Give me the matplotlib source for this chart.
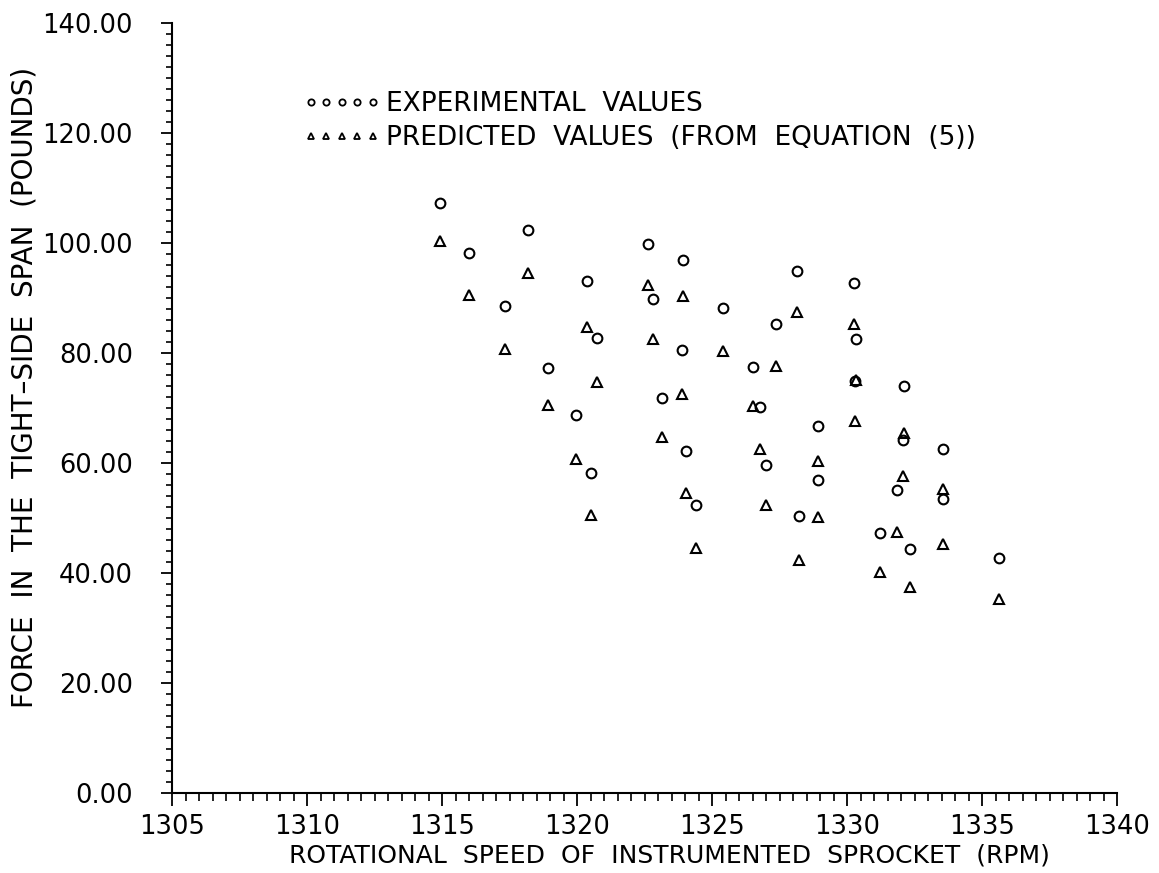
import matplotlib
matplotlib.use("Agg")
import matplotlib.pyplot as plt
from matplotlib.lines import Line2D
from matplotlib.ticker import MultipleLocator, FormatStrFormatter

plt.rcParams["font.family"] = ["DejaVu Sans"]

# sprocket speed (rpm) for each test run
rpm = [1314.93, 1318.17, 1316.00, 1320.38, 1322.62, 1323.91, 1322.80, 1317.34,
       1320.73, 1323.88, 1318.94, 1323.14, 1319.96, 1324.04, 1320.51, 1324.41,
       1328.14, 1330.26, 1325.41, 1327.37, 1330.32, 1326.53, 1330.30, 1332.11,
       1326.78, 1328.91, 1332.06, 1333.57, 1327.00, 1328.91, 1331.86, 1333.57,
       1328.23, 1331.22, 1332.33, 1335.64]

# measured tight-side force (lb)
experimental = [107.2, 102.4, 98.1, 93.1, 99.8, 97.0, 89.8, 88.5,
                82.7, 80.5, 77.3, 71.9, 68.7, 62.1, 58.2, 52.3,
                95.0, 92.8, 88.1, 85.3, 82.5, 77.4, 74.9, 74.0,
                70.2, 66.8, 64.2, 62.6, 59.6, 57.0, 55.1, 53.4,
                50.4, 47.3, 44.4, 42.7]

# force from equation (5), same runs
predicted = [100.4, 94.6, 90.5, 84.7, 92.4, 90.3, 82.5, 80.7,
             74.7, 72.5, 70.5, 64.7, 60.7, 54.5, 50.5, 44.5,
             87.5, 85.3, 80.4, 77.6, 75.1, 70.4, 67.7, 65.4,
             62.5, 60.4, 57.6, 55.3, 52.4, 50.2, 47.5, 45.3,
             42.4, 40.2, 37.5, 35.3]

W, H = 1159, 873
fig = plt.figure(figsize=(W / 100, H / 100), dpi=100)
ax = fig.add_axes([172 / W, 80 / H, (1117 - 172) / W, (793 - 23) / H])

ax.plot(rpm, experimental, linestyle="none", marker="o", markersize=7,
        mfc="none", mec="black", mew=1.5, clip_on=False)
ax.plot(rpm, predicted, linestyle="none", marker="^", markersize=6.5,
        mfc="none", mec="black", mew=1.5, clip_on=False)

ax.set_xlim(1305, 1340)
ax.set_ylim(0, 140)

for side in ("top", "right"):
    ax.spines[side].set_visible(False)
for side in ("left", "bottom"):
    ax.spines[side].set_linewidth(1.5)

ax.xaxis.set_major_locator(MultipleLocator(5))
ax.xaxis.set_minor_locator(MultipleLocator(0.5))
ax.yaxis.set_major_locator(MultipleLocator(20))
ax.yaxis.set_minor_locator(MultipleLocator(2))
ax.yaxis.set_major_formatter(FormatStrFormatter("%.2f"))

ax.tick_params(axis="x", which="major", direction="out", length=9.5, width=1.3,
               pad=5.5, labelsize=18.5)
ax.tick_params(axis="x", which="minor", direction="out", length=6, width=1.2)
ax.tick_params(axis="y", which="major", direction="out", length=8, width=1.3,
               pad=20, labelsize=18.5)
ax.tick_params(axis="y", which="minor", direction="out", length=4.3, width=1.2)

fig.text(669 / W, 1 - 855 / H,
         "ROTATIONAL  SPEED  OF  INSTRUMENTED  SPROCKET  (RPM)",
         ha="center", va="center", fontsize=18)
fig.text(25 / W, 1 - 387 / H,
         "FORCE  IN  THE  TIGHT\u2013SIDE  SPAN  (POUNDS)",
         ha="center", va="center", rotation=90, fontsize=20)

# key with five small symbols per row
handles = [
    Line2D([], [], linestyle="none", marker="o", markersize=4.5,
           mfc="none", mec="black", mew=1.3),
    Line2D([], [], linestyle="none", marker="^", markersize=4.5,
           mfc="none", mec="black", mew=1.3),
]
labels = ["EXPERIMENTAL  VALUES", "PREDICTED  VALUES  (FROM  EQUATION  (5))"]
fig.legend(handles, labels, loc="upper left",
           bbox_to_anchor=(303 / W, 1 - 91 / H), bbox_transform=fig.transFigure,
           numpoints=5, handlelength=2.95, handletextpad=0.2, labelspacing=0.3,
           frameon=False, borderpad=0, borderaxespad=0, fontsize=19)

fig.savefig("out.png", dpi=100, facecolor="white")
